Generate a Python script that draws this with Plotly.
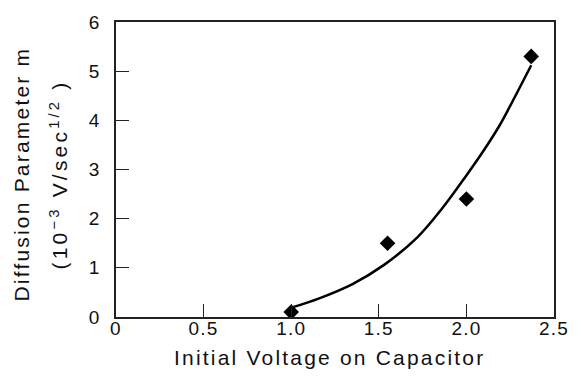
import plotly.graph_objects as go

# Measured data points (diamonds)
volt_pts = [1.0, 1.55, 2.0, 2.37]
m_pts = [0.1, 1.5, 2.4, 5.3]

# Fitted curve, points
volt_curve = [1.01, 1.16, 1.35, 1.53, 1.72, 1.86, 2.00, 2.09, 2.19, 2.28, 2.37]
m_curve = [0.20, 0.38, 0.67, 1.06, 1.62, 2.20, 2.88, 3.34, 3.90, 4.50, 5.12]

x_tickvals = [0, 0.5, 1.0, 1.5, 2.0, 2.5]
x_ticktext = ["0", "0.5", "1.0", "1.5", "2.0", "2.5"]
y_tickvals = [0, 1, 2, 3, 4, 5, 6]
y_ticktext = ["0", "1", "2", "3", "4", "5", "6"]

FONT = "Liberation Sans, Arial, Helvetica, sans-serif"
TS = "letter-spacing:1.2px"
LS = "letter-spacing:2.2px"
LS2 = "letter-spacing:3.2px"

def sp(t, style):
    return f'<span style="{style}">{t}</span>'

fig = go.Figure()
fig.add_trace(go.Scatter(x=volt_curve, y=m_curve, mode="lines",
                         line=dict(color="black", width=2.5, shape="spline", smoothing=1.0),
                         hoverinfo="skip", showlegend=False))
fig.add_trace(go.Scatter(x=volt_pts, y=m_pts, mode="markers",
                         marker=dict(symbol="diamond", size=12, color="black"),
                         showlegend=False))

fig.update_layout(
    width=581, height=377,
    margin=dict(l=116, r=18, t=17, b=60),
    paper_bgcolor="white", plot_bgcolor="white",
    font=dict(family=FONT, size=19, color="#111"),
    xaxis=dict(range=[0, 2.5], tickvals=x_tickvals,
               ticktext=[sp(t, TS) for t in x_ticktext],
               ticks="inside", ticklen=13, tickwidth=1.3, tickcolor="#222",
               showline=True, linecolor="#222", linewidth=1.5, mirror=True,
               showgrid=False, zeroline=False, ticklabelstandoff=-7,
               tickfont=dict(size=19)),
    yaxis=dict(range=[0, 6], tickvals=y_tickvals,
               ticktext=[sp(t, TS) for t in y_ticktext],
               ticks="inside", ticklen=13, tickwidth=1.3, tickcolor="#222",
               showline=True, linecolor="#222", linewidth=1.5, mirror=True,
               showgrid=False, zeroline=False, ticklabelstandoff=10,
               tickfont=dict(size=19)),
)

fig.add_annotation(text=sp("Initial Voltage on Capacitor", LS),
                   xref="paper", yref="paper", x=0.5, y=0, xanchor="center", yanchor="middle",
                   xshift=-6, yshift=-40, showarrow=False, font=dict(size=21))
fig.add_annotation(text=sp("Diffusion Parameter m", LS),
                   xref="paper", yref="paper", x=0, y=0.5, xanchor="center", yanchor="middle",
                   xshift=-95, yshift=-5, textangle=-90, showarrow=False, font=dict(size=21))
fig.add_annotation(text=sp("(10<sup>\u22123</sup> V/sec<sup>1/2</sup> )", LS2),
                   xref="paper", yref="paper", x=0, y=0.5, xanchor="center", yanchor="middle",
                   xshift=-58, yshift=-5, textangle=-90, showarrow=False, font=dict(size=21))

fig.write_html("out.html")
